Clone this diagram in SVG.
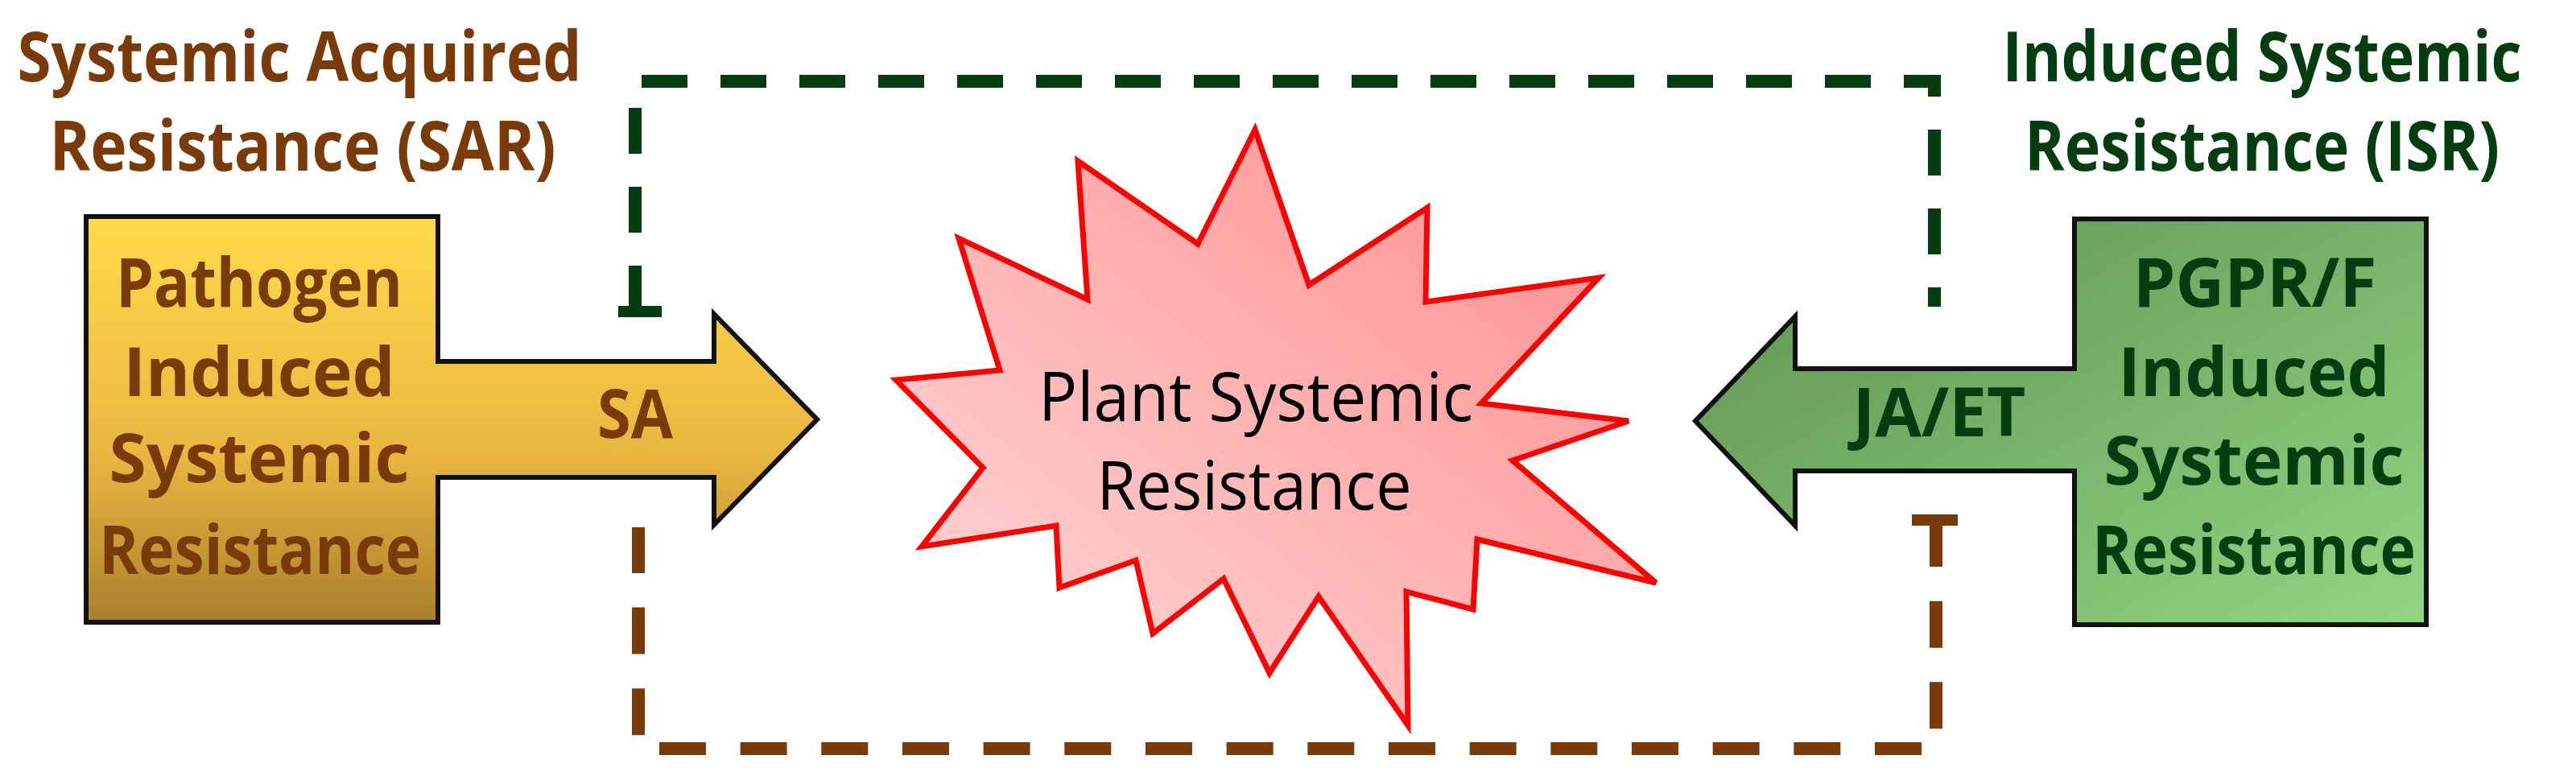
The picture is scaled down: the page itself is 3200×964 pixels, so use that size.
<svg xmlns="http://www.w3.org/2000/svg" width="3200" height="964" viewBox="0 0 3200 964">
<style>
.t{font-family:"Open Sans","Liberation Sans",sans-serif;font-weight:bold;text-anchor:middle}
.br{fill:#7a3a0a}.gr{fill:#033d10}
.dg{fill:none;stroke:#033d10;stroke-width:16;stroke-dasharray:57 41}
.db{fill:none;stroke:#7a3a0a;stroke-width:16;stroke-dasharray:58 42.67}
</style>
<defs>
<linearGradient id="yg" x1="0" y1="0" x2="0" y2="1"><stop offset="0" stop-color="#ffdb4a"/><stop offset="0.6" stop-color="#e9b540"/><stop offset="1" stop-color="#a97f2a"/></linearGradient>
<linearGradient id="gg" x1="0" y1="0" x2="1" y2="1"><stop offset="0" stop-color="#5e9150"/><stop offset="1" stop-color="#92d583"/></linearGradient>
<linearGradient id="sg" x1="0" y1="1" x2="1" y2="0"><stop offset="0" stop-color="#ffdcdc"/><stop offset="1" stop-color="#ff8a8a"/></linearGradient>
</defs>
<g id="connectors">
<polyline class="dg" points="789,387 789,101 2403,101 2403,381"/>
<line x1="768" y1="387" x2="822" y2="387" stroke="#033d10" stroke-width="14"/>
<polyline class="db" points="2405,646 2405,930 793,930 793,655"/>
<line x1="2375" y1="646" x2="2432" y2="646" stroke="#7a3a0a" stroke-width="14"/>
</g>
<g id="sar-title">
<text class="t br" x="372" y="101" font-size="86" textLength="701" lengthAdjust="spacingAndGlyphs">Systemic Acquired</text>
<text class="t br" x="376" y="212" font-size="86" textLength="629" lengthAdjust="spacingAndGlyphs">Resistance (SAR)</text>
</g>
<g id="isr-title">
<text class="t gr" x="2810" y="101" font-size="86" textLength="645" lengthAdjust="spacingAndGlyphs">Induced Systemic</text>
<text class="t gr" x="2810" y="212" font-size="86" textLength="590" lengthAdjust="spacingAndGlyphs">Resistance (ISR)</text>
</g>
<g id="pathogen">
<path d="M107,269 H544 V449 H887 V390 L1015,521 L887,652 V593 H544 V773 H107 Z" fill="url(#yg)" stroke="#111" stroke-width="6"/>
<g class="t br" font-size="84">
<text x="322" y="381" textLength="356" lengthAdjust="spacingAndGlyphs">Pathogen</text>
<text x="322" y="492">Induced</text>
<text x="322" y="599">Systemic</text>
<text x="323" y="713" textLength="400" lengthAdjust="spacingAndGlyphs">Resistance</text>
<text x="789" y="544" textLength="94" lengthAdjust="spacingAndGlyphs">SA</text>
</g>
</g>
<g id="pgpr">
<path d="M3014,272 H2577 V458 H2230 V393 L2106,523 L2230,653 V585 H2577 V776 H3014 Z" fill="url(#gg)" stroke="#111" stroke-width="6"/>
<g class="t gr" font-size="84">
<text x="2801" y="381">PGPR/F</text>
<text x="2800" y="492">Induced</text>
<text x="2800" y="602">Systemic</text>
<text x="2800" y="713" textLength="402" lengthAdjust="spacingAndGlyphs">Resistance</text>
<text x="2409" y="542" textLength="215" lengthAdjust="spacingAndGlyphs">JA/ET</text>
</g>
</g>
<g id="plant">
<polygon points="1559,161 1626,354 1773,258 1771,375 1986,345 1840,501 2023,523 1879,572 2057,724 1835,670 1830,757 1747,735 1749,901 1638,741 1577,836 1520,719 1432,787 1411,696 1316,730 1312,653 1145,679 1221,581 1113,472 1242,460 1191,296 1351,372 1339,200 1488,303" fill="url(#sg)" stroke="#ff0000" stroke-width="7"/>
<text x="1560" y="523" font-family="'Open Sans','Liberation Sans',sans-serif" font-size="84" text-anchor="middle" textLength="540" lengthAdjust="spacingAndGlyphs">Plant Systemic</text>
<text x="1558" y="633" font-family="'Open Sans','Liberation Sans',sans-serif" font-size="84" text-anchor="middle" textLength="391" lengthAdjust="spacingAndGlyphs">Resistance</text>
</g>
</svg>
